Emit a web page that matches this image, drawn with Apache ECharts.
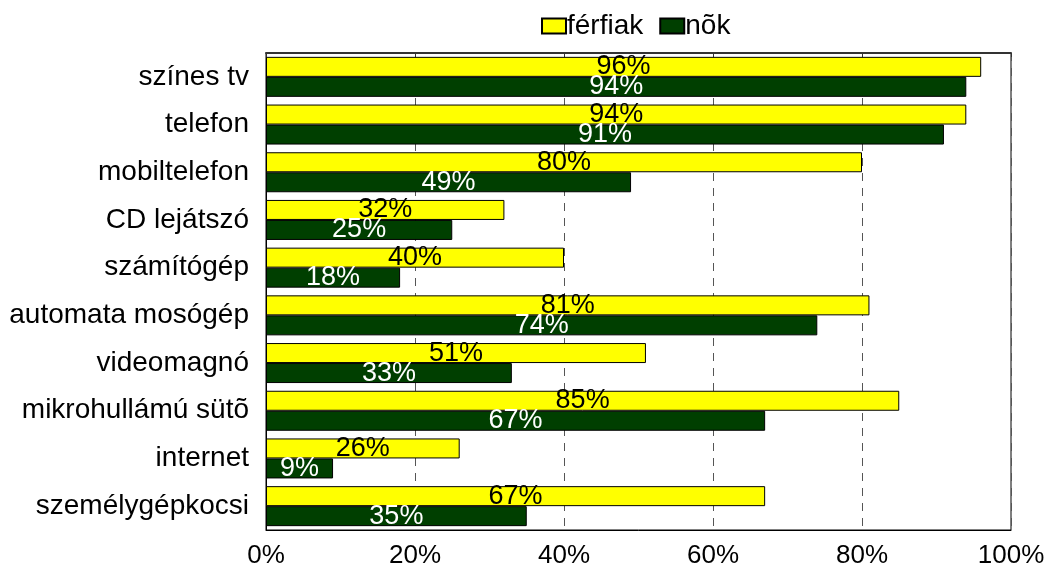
<!DOCTYPE html>
<html>
<head>
<meta charset="utf-8">
<script src="https://cdn.jsdelivr.net/npm/echarts@6/dist/echarts.min.js"></script>
<style>
  html, body { margin: 0; padding: 0; background: #fff; }
  #chart { width: 1048px; height: 569px; }
</style>
</head>
<body>
<div id="chart"></div>
<script>
// kategóriák fentről lefelé
var categories = ['színes tv', 'telefon', 'mobiltelefon', 'CD lejátszó', 'számítógép',
  'automata mosógép', 'videomagnó', 'mikrohullámú sütõ', 'internet', 'személygépkocsi'];
var ferfiak = [96, 94, 80, 32, 40, 81, 51, 85, 26, 67];
var nok = [94, 91, 49, 25, 18, 74, 33, 67, 9, 35];
var seriesNames = ['férfiak', 'nõk'];
var xTicks = [0, 20, 40, 60, 80, 100];

var font = 'Liberation Sans, Arial, sans-serif';
var myChart = echarts.init(document.getElementById('chart'));
var option = {
  animation: false,
  textStyle: { fontFamily: font },
  legend: {
    left: 541,
    top: 12,
    padding: 0,
    icon: 'rect',
    itemWidth: 24,
    itemHeight: 15,
    itemGap: 16,
    textStyle: { fontSize: 28, color: '#000', fontFamily: font, padding: [0, 0, 0, -4] },
    data: seriesNames
  },
  grid: {
    left: 266, right: 37, top: 53, bottom: 38,
    show: true, borderColor: '#000', borderWidth: 1
  },
  xAxis: [{
    type: 'value',
    min: xTicks[0],
    max: xTicks[xTicks.length - 1],
    interval: 20,
    axisLine: { show: true, lineStyle: { color: '#000' } },
    axisTick: { show: false },
    axisLabel: { formatter: '{value}%', fontSize: 26, color: '#000', margin: 13, fontFamily: font },
    splitLine: { show: true, lineStyle: { color: '#555', type: [8, 7], width: 1 } }
  }, {
    type: 'value',
    position: 'top',
    min: xTicks[0],
    max: xTicks[xTicks.length - 1],
    interval: 20,
    axisLine: { show: true, lineStyle: { color: '#333', width: 2 } },
    axisTick: { show: true, inside: true, length: 4, lineStyle: { color: '#333' } },
    axisLabel: { show: false },
    splitLine: { show: false }
  }],
  yAxis: {
    type: 'category',
    inverse: true,
    data: categories,
    axisLine: { show: true, lineStyle: { color: '#000' } },
    axisTick: { show: false },
    axisLabel: { fontSize: 28, color: '#000', margin: 17, fontFamily: font }
  },
  series: [
    {
      name: seriesNames[0],
      type: 'bar',
      barWidth: 20,
      barGap: '0%',
      data: ferfiak,
      itemStyle: { color: '#ffff00', borderColor: '#000', borderWidth: 1 },
      label: {
        show: true, position: 'inside', formatter: '{c}%',
        fontSize: 27, color: '#000', fontFamily: font
      }
    },
    {
      name: seriesNames[1],
      type: 'bar',
      barWidth: 20,
      barGap: '0%',
      data: nok,
      itemStyle: { color: '#003f00', borderColor: '#000', borderWidth: 1 },
      label: {
        show: true, position: 'inside', formatter: '{c}%',
        fontSize: 27, color: '#fff', fontFamily: font
      }
    }
  ]
};
myChart.setOption(option);
</script>
</body>
</html>
